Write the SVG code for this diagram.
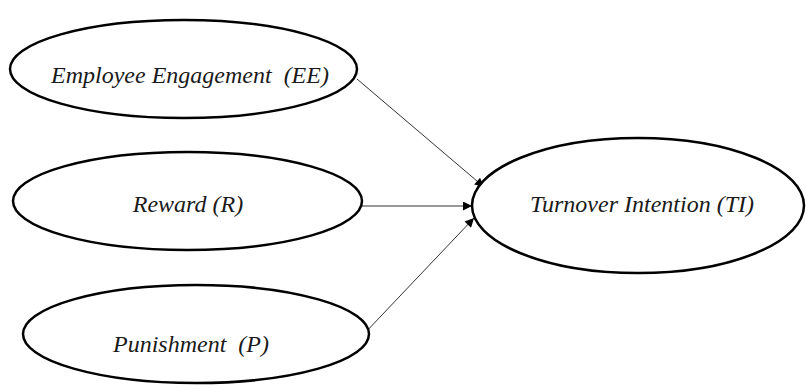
<svg xmlns="http://www.w3.org/2000/svg" width="806" height="385" viewBox="0 0 806 385">
<style>
.node{fill:#fff;stroke:#000;stroke-width:2.5}
.lbl{font-family:"Liberation Serif","DejaVu Serif",serif;font-style:italic;font-size:24px;fill:#1a1a1a;text-anchor:middle;white-space:pre}
.edge{stroke:#333;stroke-width:1;fill:none;marker-end:url(#ah)}
</style>
<defs>
<marker id="ah" viewBox="0 0 10 10" refX="10" refY="5" markerWidth="12" markerHeight="9" markerUnits="userSpaceOnUse" orient="auto">
<path d="M0,0 L10,5 L0,10 z" fill="#000"/>
</marker>
</defs>
<rect width="806" height="385" fill="#fff"/>
<g id="connectors">
<line class="edge" x1="357" y1="79" x2="484" y2="187"/>
<line class="edge" x1="362" y1="206" x2="472" y2="206"/>
<line class="edge" x1="363" y1="335" x2="474" y2="218"/>
</g>
<g id="node-ee">
<ellipse class="node" cx="183.5" cy="69" rx="173.5" ry="49"/>
<text class="lbl" x="190" y="83" xml:space="preserve">Employee Engagement  (EE)</text>
</g>
<g id="node-r">
<ellipse class="node" cx="187.5" cy="201" rx="174.5" ry="49"/>
<text class="lbl" x="188" y="212">Reward (R)</text>
</g>
<g id="node-p">
<ellipse class="node" cx="196" cy="334" rx="173" ry="49"/>
<text class="lbl" x="191" y="352" xml:space="preserve">Punishment  (P)</text>
</g>
<g id="node-ti">
<ellipse class="node" cx="638" cy="205.5" rx="166" ry="67.5"/>
<text class="lbl" x="642" y="212">Turnover Intention (TI)</text>
</g>
</svg>
